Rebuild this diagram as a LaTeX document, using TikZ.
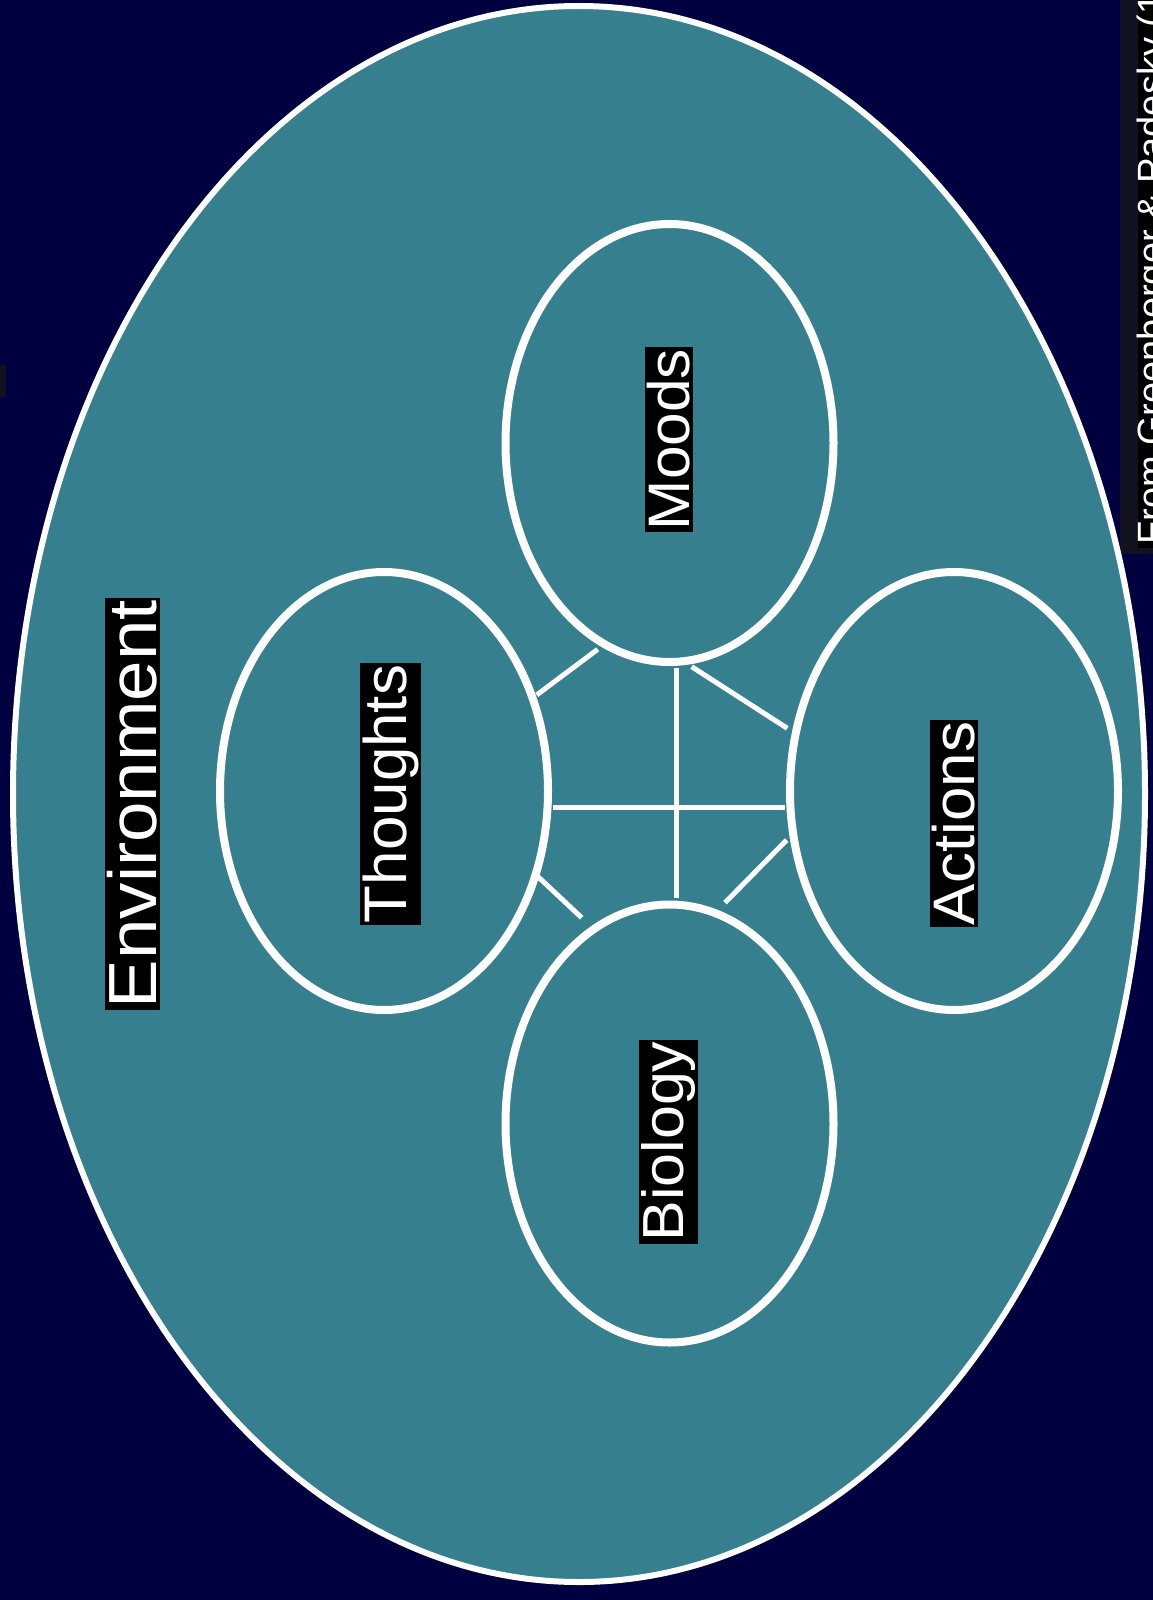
\documentclass[tikz,border=0pt]{standalone}
\usepackage{fontspec}
\setmainfont{Liberation Sans}
\usetikzlibrary{shapes.geometric}
\definecolor{bgnavy}{RGB}{0,0,64}
\definecolor{envteal}{RGB}{54,127,143}
\definecolor{notegray}{RGB}{17,17,31}
\begin{document}
\begin{tikzpicture}[x=1pt,y=-1pt,
  cell/.style={ellipse, draw=white, line width=8pt, minimum width=328pt, minimum height=438pt, inner sep=0pt},
  link/.style={draw=white, line width=5pt},
  lab/.style={fill=black, text=white, inner xsep=2pt, inner ysep=2.5pt, rotate=90, font=\fontsize{60}{60}\selectfont}]
\fill[bgnavy] (0,0) rectangle (1153,1600);
\useasboundingbox (0,0) rectangle (1153,1600);
% source note (cut at page edge)
\fill[notegray] (1120,0) rectangle (1153,554);
\fill[black] (1138,0) rectangle (1153,548);
\node[rotate=90, anchor=north west, text=white, inner sep=0pt, font=\fontsize{38}{38}\selectfont] (src) at (1137,545) {From Greenberger \& Padesky (1};
\fill[notegray] (0,365) rectangle (6,397);
% environment
\node[ellipse, draw=white, fill=envteal, line width=6pt, minimum width=1132pt, minimum height=1576pt, inner sep=0pt] (env) at (579,794) {};
% inner ellipses
\node[cell] (moods) at (669.5,443) {};
\node[cell] (thoughts) at (384,791) {};
\node[cell] (actions) at (954,791) {};
\node[cell] (biology) at (669.5,1123.5) {};
% connector end points
\coordinate (mt1) at (536.7,695);
\coordinate (mt2) at (597.7,649.3);
\coordinate (ma1) at (691.7,666.7);
\coordinate (ma2) at (787.3,728.3);
\coordinate (tb1) at (533.3,872.3);
\coordinate (tb2) at (581.7,917.7);
\coordinate (ab1) at (786.7,840);
\coordinate (ab2) at (725,902.7);
\coordinate (mb1) at (676,668);
\coordinate (mb2) at (676,898);
\coordinate (ta1) at (553,807.3);
\coordinate (ta2) at (785,807.3);
\draw[link] (mt1) -- (mt2);
\draw[link] (ma1) -- (ma2);
\draw[link] (tb1) -- (tb2);
\draw[link] (ab1) -- (ab2);
\draw[link] (mb1) -- (mb2);
\draw[link] (ta1) -- (ta2);
% labels
\node[lab] (moodsL) at (669,439.5) {\resizebox*{181pt}{43pt}{Moods}};
\node[lab] (thoughtsL) at (390.5,794) {\resizebox*{258pt}{56pt}{Thoughts}};
\node[lab] (actionsL) at (954,823.5) {\resizebox*{203pt}{43pt}{Actions}};
\node[lab] (biologyL) at (668.5,1141.5) {\resizebox*{200pt}{54pt}{Biology}};
\node[lab] (envL) at (132.5,804) {\resizebox*{408pt}{50pt}{Environment}};
\end{tikzpicture}
\end{document}
